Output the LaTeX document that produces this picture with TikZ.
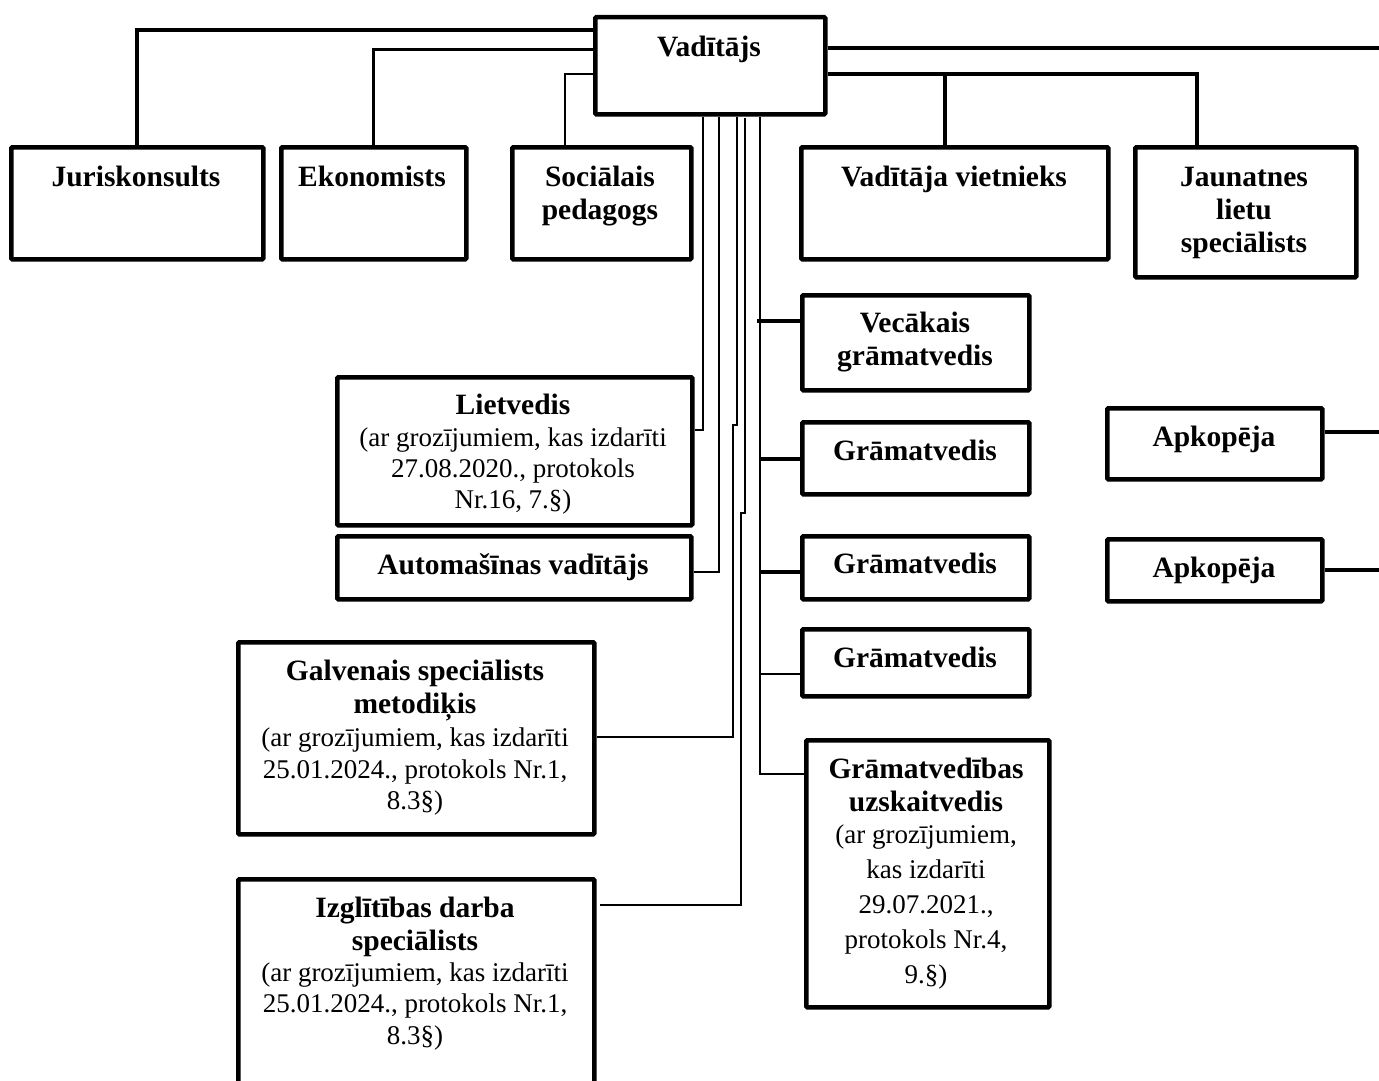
\documentclass[tikz,border=0pt]{standalone}
\usepackage{fontspec}
\setmainfont{Liberation Serif}
\newcommand\toprl{\rule{0pt}{23pt}}
\newcommand\rg{\mdseries\fontsize{27}{31}\selectfont}
\begin{document}
\begin{tikzpicture}[x=1pt,y=-1pt,
  box/.style={draw, line width=4.5pt, anchor=north west, inner sep=0pt, rounded corners=1pt},
  txt/.style={anchor=north, inner sep=0pt, align=center, font=\fontsize{29.5}{33}\selectfont\bfseries},
  lnA/.style={line width=4pt},
  lnB/.style={line width=3pt},
  lnC/.style={line width=2pt}]
\clip (0,0) rectangle (1379,1081);
\useasboundingbox (0,0) rectangle (1379,1081);
% boxes
\node[box, minimum width=230, minimum height=97] (v) at (593,15) {};
\node[box, minimum width=252, minimum height=112] (jur) at (9,145) {};
\node[box, minimum width=185, minimum height=112] (eko) at (279,145) {};
\node[box, minimum width=179, minimum height=112] (soc) at (510,145) {};
\node[box, minimum width=307, minimum height=112] (vie) at (799,145) {};
\node[box, minimum width=221, minimum height=130] (jau) at (1133,145) {};
\node[box, minimum width=227, minimum height=95] (vec) at (800,293) {};
\node[box, minimum width=227, minimum height=72] (gr1) at (800,420) {};
\node[box, minimum width=227, minimum height=63] (gr2) at (800,534) {};
\node[box, minimum width=227, minimum height=67] (gr3) at (800,627) {};
\node[box, minimum width=243, minimum height=267] (gru) at (804,738) {};
\node[box, minimum width=355, minimum height=148] (lie) at (335,375) {};
\node[box, minimum width=354, minimum height=63] (aut) at (335,534) {};
\node[box, minimum width=356, minimum height=192] (gal) at (236,640) {};
\node[box, minimum width=356, minimum height=260] (izg) at (236,877) {};
\node[box, minimum width=215, minimum height=71] (apk1) at (1105,406) {};
\node[box, minimum width=215, minimum height=62] (apk2) at (1105,537) {};
% texts
\node[txt] (tv) at (709,33) {\toprl Vadītājs};
\node[txt] (tjur) at (136,163) {\toprl Juriskonsults};
\node[txt] (teko) at (372,163) {\toprl Ekonomists};
\node[txt] (tsoc) at (600,163) {\toprl Sociālais\\pedagogs};
\node[txt] (tvie) at (954,163) {\toprl Vadītāja vietnieks};
\node[txt] (tjau) at (1244,163) {\toprl Jaunatnes\\lietu\\speciālists};
\node[txt] (tvec) at (915,309) {\toprl Vecākais\\grāmatvedis};
\node[txt] (tgr1) at (915,437) {\toprl Grāmatvedis};
\node[txt] (tgr2) at (915,550) {\toprl Grāmatvedis};
\node[txt] (tgr3) at (915,644) {\toprl Grāmatvedis};
\node[txt] (tapk1) at (1214,423) {\toprl Apkopēja};
\node[txt] (tapk2) at (1214,554) {\toprl Apkopēja};
\node[txt] (taut) at (513,551) {\toprl Automašīnas vadītājs};
\node[txt] (tlie) at (513,391) {\toprl Lietvedis\\[-1pt]
  {\rg (ar grozījumiem, kas izdarīti}\\[-2pt]
  {\rg 27.08.2020., protokols}\\[-2pt]
  {\rg Nr.16, 7.§)}};
\node[txt] (tgal) at (415,657) {\toprl Galvenais speciālists\\metodiķis\\
  {\rg (ar grozījumiem, kas izdarīti}\\[-1pt]
  {\rg 25.01.2024., protokols Nr.1,}\\[-2pt]
  {\rg 8.3§)}};
\node[txt] (tizg) at (415,894) {\toprl Izglītības darba\\speciālists\\[-2pt]
  {\rg (ar grozījumiem, kas izdarīti}\\[-2pt]
  {\rg 25.01.2024., protokols Nr.1,}\\[-1pt]
  {\rg 8.3§)}};
\node[txt] (tgru) at (926,755) {\toprl Grāmatvedības\\uzskaitvedis\\[-1pt]
  {\rg (ar grozījumiem,}\\[2pt]
  {\rg kas izdarīti}\\[2pt]
  {\rg 29.07.2021.,}\\[2pt]
  {\rg protokols Nr.4,}\\[2pt]
  {\rg 9.§)}};
% free ends and branch points
\coordinate (e1) at (1379,48);
\coordinate (e2) at (1379,432);
\coordinate (e3) at (1379,570);
\coordinate (bv) at (945,74);
% connectors from the head
\draw[lnA] (v.west |- 0,30) -| (jur.north);
\draw[lnB] (v.west |- 0,50) -| (eko.north);
\draw[lnC] (v.west |- 0,74) -| (565,0 |- soc.north);
\draw[lnA] (v.east |- e1) -- (e1);
\draw[lnA] (v.east |- bv) -| (1197,0 |- jau.north);
\draw[lnA] (bv) -- (bv |- vie.north);
% thin vertical connectors
\draw[lnC] (703,0 |- v.south) |- (lie.east |- 0,430);
\draw[lnC] (719,0 |- v.south) |- (aut.east |- 0,572);
\draw[lnC] (737,0 |- v.south) -- (737,425) -- (733,425) |- (gal.east |- 0,737);
\draw[lnC] (745,118) -- (745,513) -- (741,513) |- (600,905);
\draw[lnC] (760,0 |- v.south) -- (760,774) -- (gru.west |- 0,774);
\draw[lnA] (757,321) -- (vec.west |- 0,321);
\draw[lnA] (760,459) -- (gr1.west |- 0,459);
\draw[lnA] (760,572) -- (gr2.west |- 0,572);
\draw[lnC] (760,674) -- (gr3.west |- 0,674);
% right side
\draw[lnA] (apk1.east |- e2) -- (e2);
\draw[lnA] (apk2.east |- e3) -- (e3);
\end{tikzpicture}
\end{document}
